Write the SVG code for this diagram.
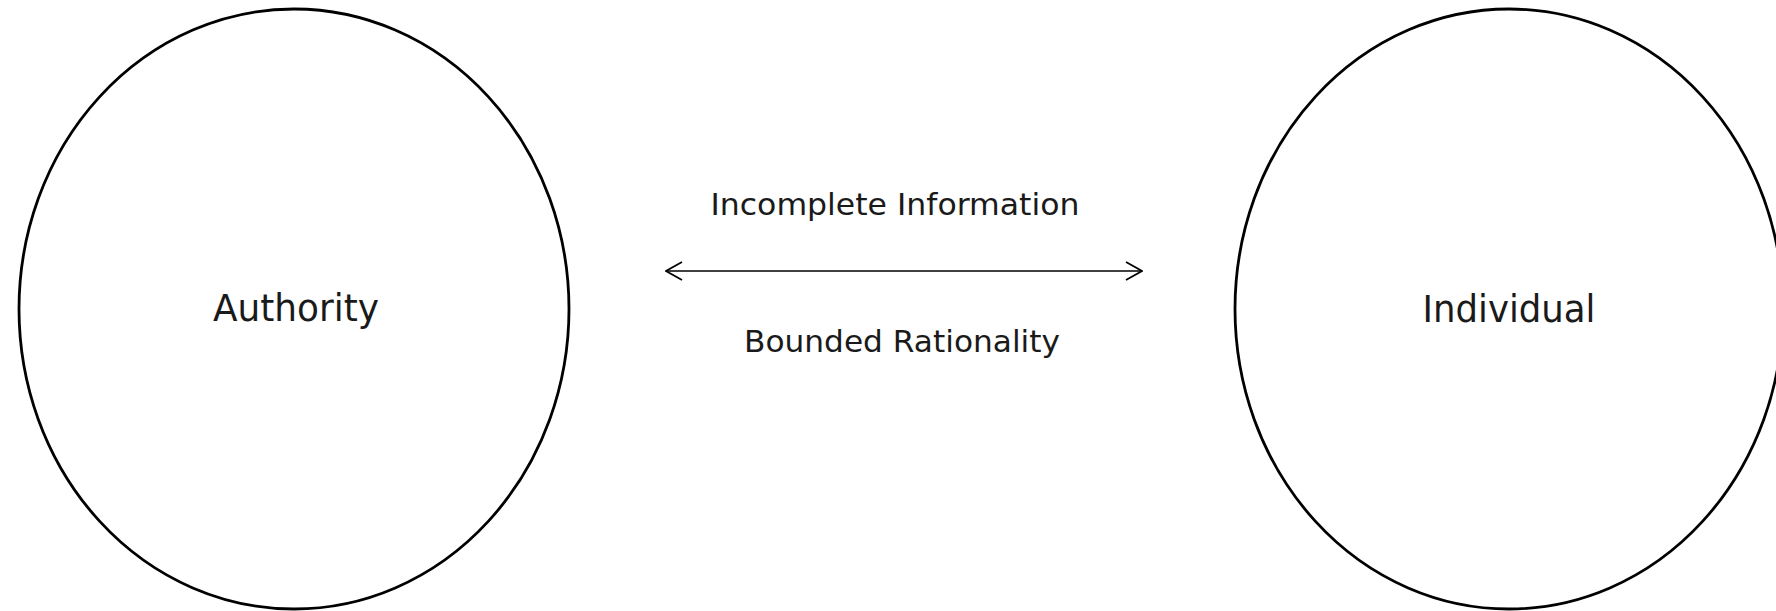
<svg xmlns="http://www.w3.org/2000/svg" width="1776" height="611" viewBox="0 0 1776 611">
  <style>
    .node { fill: #ffffff; stroke: #000000; stroke-width: 2.8; }
    .label { font-family: "DejaVu Sans", "Liberation Sans", sans-serif; fill: #1a1a1a; text-anchor: middle; }
    .big { font-size: 37px; }
    .small { font-size: 30px; }
    .conn { stroke: #000000; stroke-width: 1.6; fill: none; }
  </style>
  <defs>
    <marker id="chev" viewBox="0 0 20 24" refX="19" refY="12" markerWidth="20" markerHeight="24" markerUnits="userSpaceOnUse" orient="auto-start-reverse">
      <path d="M3,3 L19,12 L3,21" fill="none" stroke="#000000" stroke-width="1.7"/>
    </marker>
  </defs>
  <rect width="1776" height="611" fill="#ffffff"/>
  <g id="authority">
    <ellipse class="node" cx="294" cy="309" rx="275" ry="300"/>
    <text class="label big" x="296" y="321" textLength="166" lengthAdjust="spacingAndGlyphs">Authority</text>
  </g>
  <g id="individual">
    <ellipse class="node" cx="1509" cy="309" rx="274" ry="300"/>
    <text class="label big" x="1509" y="322" textLength="173" lengthAdjust="spacingAndGlyphs">Individual</text>
  </g>
  <g id="connectors">
    <line class="conn" x1="666" y1="271" x2="1142" y2="271" marker-start="url(#chev)" marker-end="url(#chev)"/>
  </g>
  <g id="connector-labels">
    <text class="label small" x="895" y="215" textLength="369" lengthAdjust="spacingAndGlyphs">Incomplete Information</text>
    <text class="label small" x="902" y="352" textLength="316" lengthAdjust="spacingAndGlyphs">Bounded Rationality</text>
  </g>
</svg>
